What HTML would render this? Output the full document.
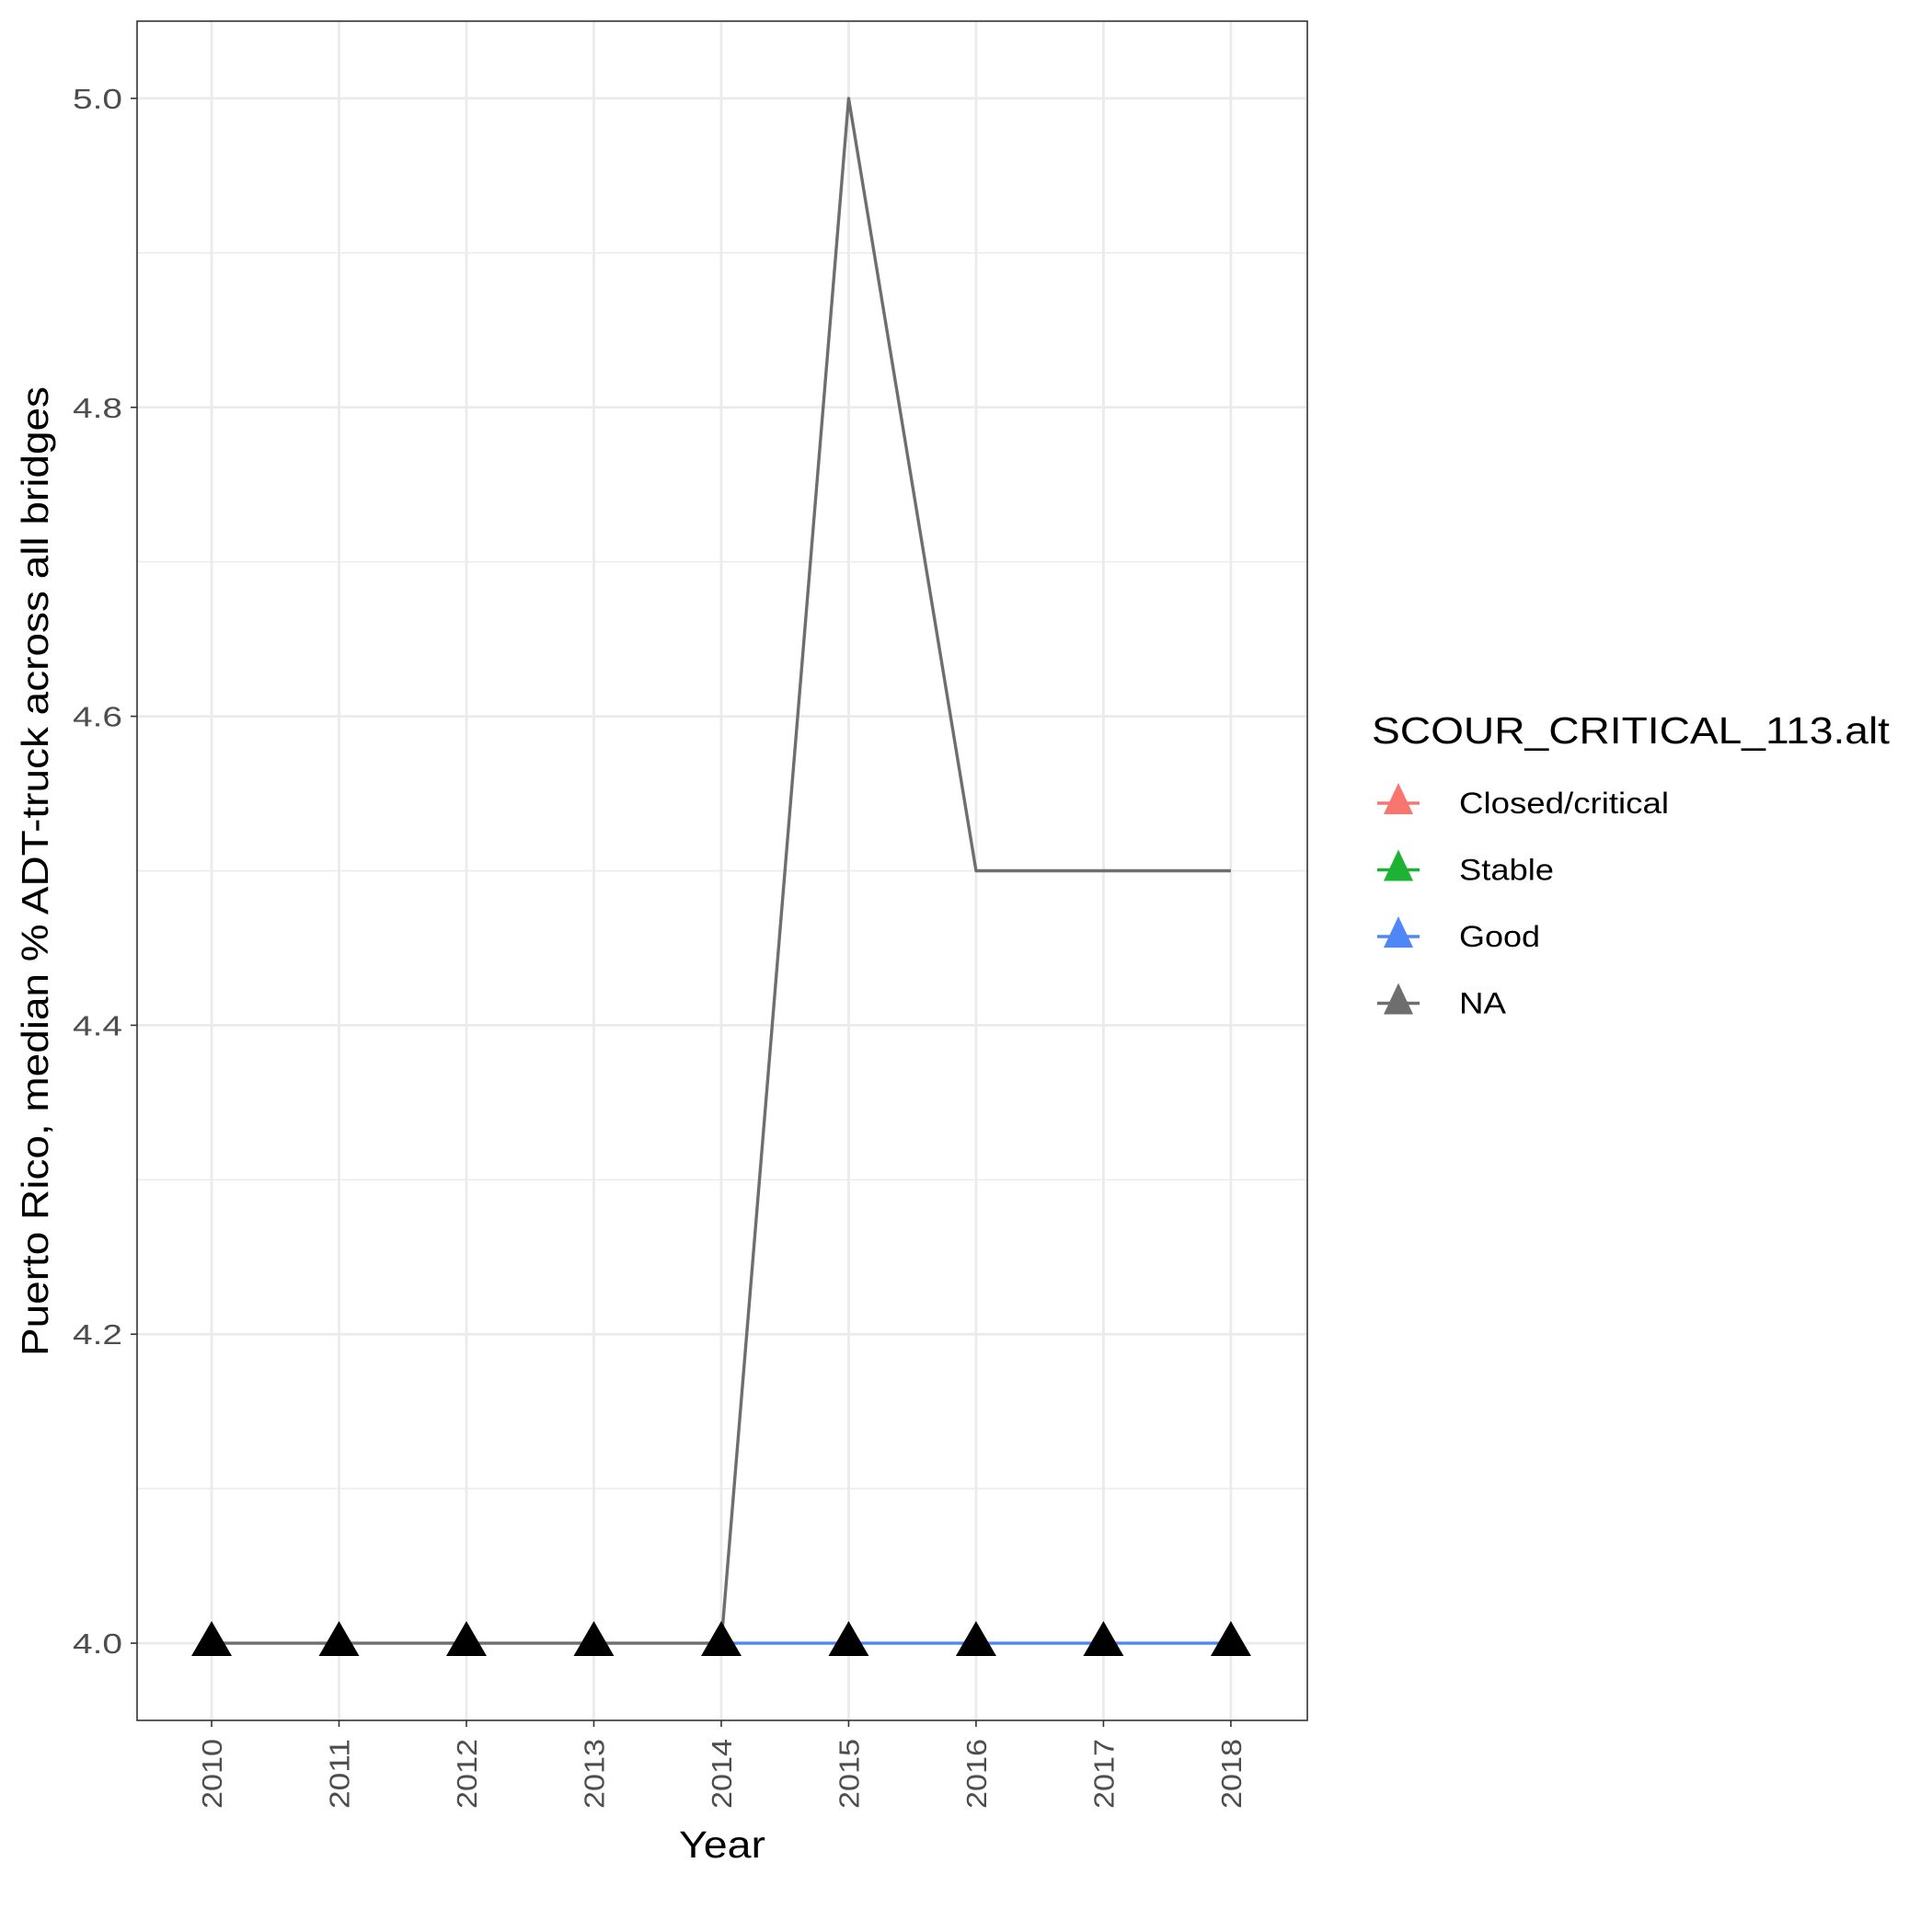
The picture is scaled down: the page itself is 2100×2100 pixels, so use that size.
<!DOCTYPE html>
<html><head><meta charset="utf-8"><style>body{margin:0;background:#fff}svg{display:block}</style></head>
<body>
<svg id="chart" width="2100" height="2100" xmlns="http://www.w3.org/2000/svg" font-family="Liberation Sans, Arial, sans-serif"></svg>
<script>
const years = [2010,2011,2012,2013,2014,2015,2016,2017,2018];
const naValues = [4,4,4,4,4,5,4.5,4.5,4.5];
const goodYears = [2014,2015,2016,2017,2018];
const goodValues = [4,4,4,4,4];
const pointValues = [4,4,4,4,4,4,4,4,4];
const yTicks = [4.0,4.2,4.4,4.6,4.8,5.0];
const yMinor = [4.1,4.3,4.5,4.7,4.9];
const legendLabels = ["Closed/critical","Stable","Good","NA"];
const legendWidths = [228,103,88,51];
const legendColors = ["#F8766D","#1DB233","#5087F8","#6E6E6E"];

const L=149,R=1421,T=23,B=1870;
const x=v=>L+(v-2009.415)/(9.185)*(R-L);
const y=v=>B-(v-3.95)/1.1*(B-T);
const svg=document.getElementById('chart');
const NS='http://www.w3.org/2000/svg';
function mk(tag,attrs,parent){const e=document.createElementNS(NS,tag);for(const k in attrs)e.setAttribute(k,attrs[k]);(parent||svg).appendChild(e);return e;}

const grid=mk('g',{});


yMinor.forEach(v=>mk('line',{x1:L,x2:R,y1:y(v),y2:y(v),stroke:'#ebebeb','stroke-width':1.4},grid));
yTicks.forEach(v=>mk('line',{x1:L,x2:R,y1:y(v),y2:y(v),stroke:'#ebebeb','stroke-width':2.8},grid));
years.forEach(v=>mk('line',{x1:x(v),x2:x(v),y1:T,y2:B,stroke:'#ebebeb','stroke-width':2.8},grid));

const good=mk('polyline',{points:goodYears.map((v,i)=>x(v)+','+y(goodValues[i])).join(' '),fill:'none',stroke:'#5087F8','stroke-width':3.4});


const na=mk('polyline',{points:years.map((v,i)=>x(v)+','+y(naValues[i])).join(' '),fill:'none',stroke:'#6E6E6E','stroke-width':3.4,'stroke-linejoin':'round'});



years.forEach((v,i)=>{
  const cx=x(v),cy=y(pointValues[i]);
  const p=mk('polygon',{points:`${cx},${cy-24} ${cx-22},${cy+14} ${cx+22},${cy+14}`,fill:'#000'});
  
  
});

const border=mk('rect',{x:L,y:T,width:R-L,height:B-T,fill:'none',stroke:'#333','stroke-width':1.6});



yTicks.forEach(v=>{
  mk('line',{x1:L-7,x2:L,y1:y(v),y2:y(v),stroke:'#333','stroke-width':1.6});
  const t=mk('text',{x:L-16,y:y(v)+11,'text-anchor':'end','font-size':31,fill:'#4d4d4d',textLength:54,lengthAdjust:'spacingAndGlyphs'});
  t.textContent=v.toFixed(1);
  
  
});
years.forEach(v=>{
  mk('line',{x1:x(v),x2:x(v),y1:B,y2:B+7,stroke:'#333','stroke-width':1.6});
  const t=mk('text',{x:0,y:0,'text-anchor':'end','font-size':31,fill:'#4d4d4d',textLength:76,lengthAdjust:'spacingAndGlyphs',transform:`translate(${x(v)+11},${B+20}) rotate(-90)`});
  t.textContent=v;
  
  
});

const xt=mk('text',{x:(L+R)/2,y:2019,'text-anchor':'middle','font-size':41,fill:'#000',textLength:94,lengthAdjust:'spacingAndGlyphs'});
xt.textContent='Year';


const yt=mk('text',{x:0,y:0,'text-anchor':'middle','font-size':41,fill:'#000',textLength:1054,lengthAdjust:'spacingAndGlyphs',transform:`translate(52,947) rotate(-90)`});
yt.textContent='Puerto Rico, median % ADT-truck across all bridges';



const lt=mk('text',{x:1491,y:808,'font-size':41,fill:'#000',textLength:563,lengthAdjust:'spacingAndGlyphs'});
lt.textContent='SCOUR_CRITICAL_113.alt';


legendLabels.forEach((lab,i)=>{
  const cy=873+i*72.5, cx=1520;
  const g=mk('g',{});
  
  
  mk('line',{x1:cx-23,x2:cx+23,y1:cy,y2:cy,stroke:legendColors[i],'stroke-width':3.4},g);
  mk('polygon',{points:`${cx},${cy-22} ${cx-16},${cy+12} ${cx+16},${cy+12}`,fill:legendColors[i]},g);
  const t=mk('text',{x:1586,y:cy+11,'font-size':32,fill:'#000',textLength:legendWidths[i],lengthAdjust:'spacingAndGlyphs'},g);
  t.textContent=lab;
});
</script>
</body></html>
